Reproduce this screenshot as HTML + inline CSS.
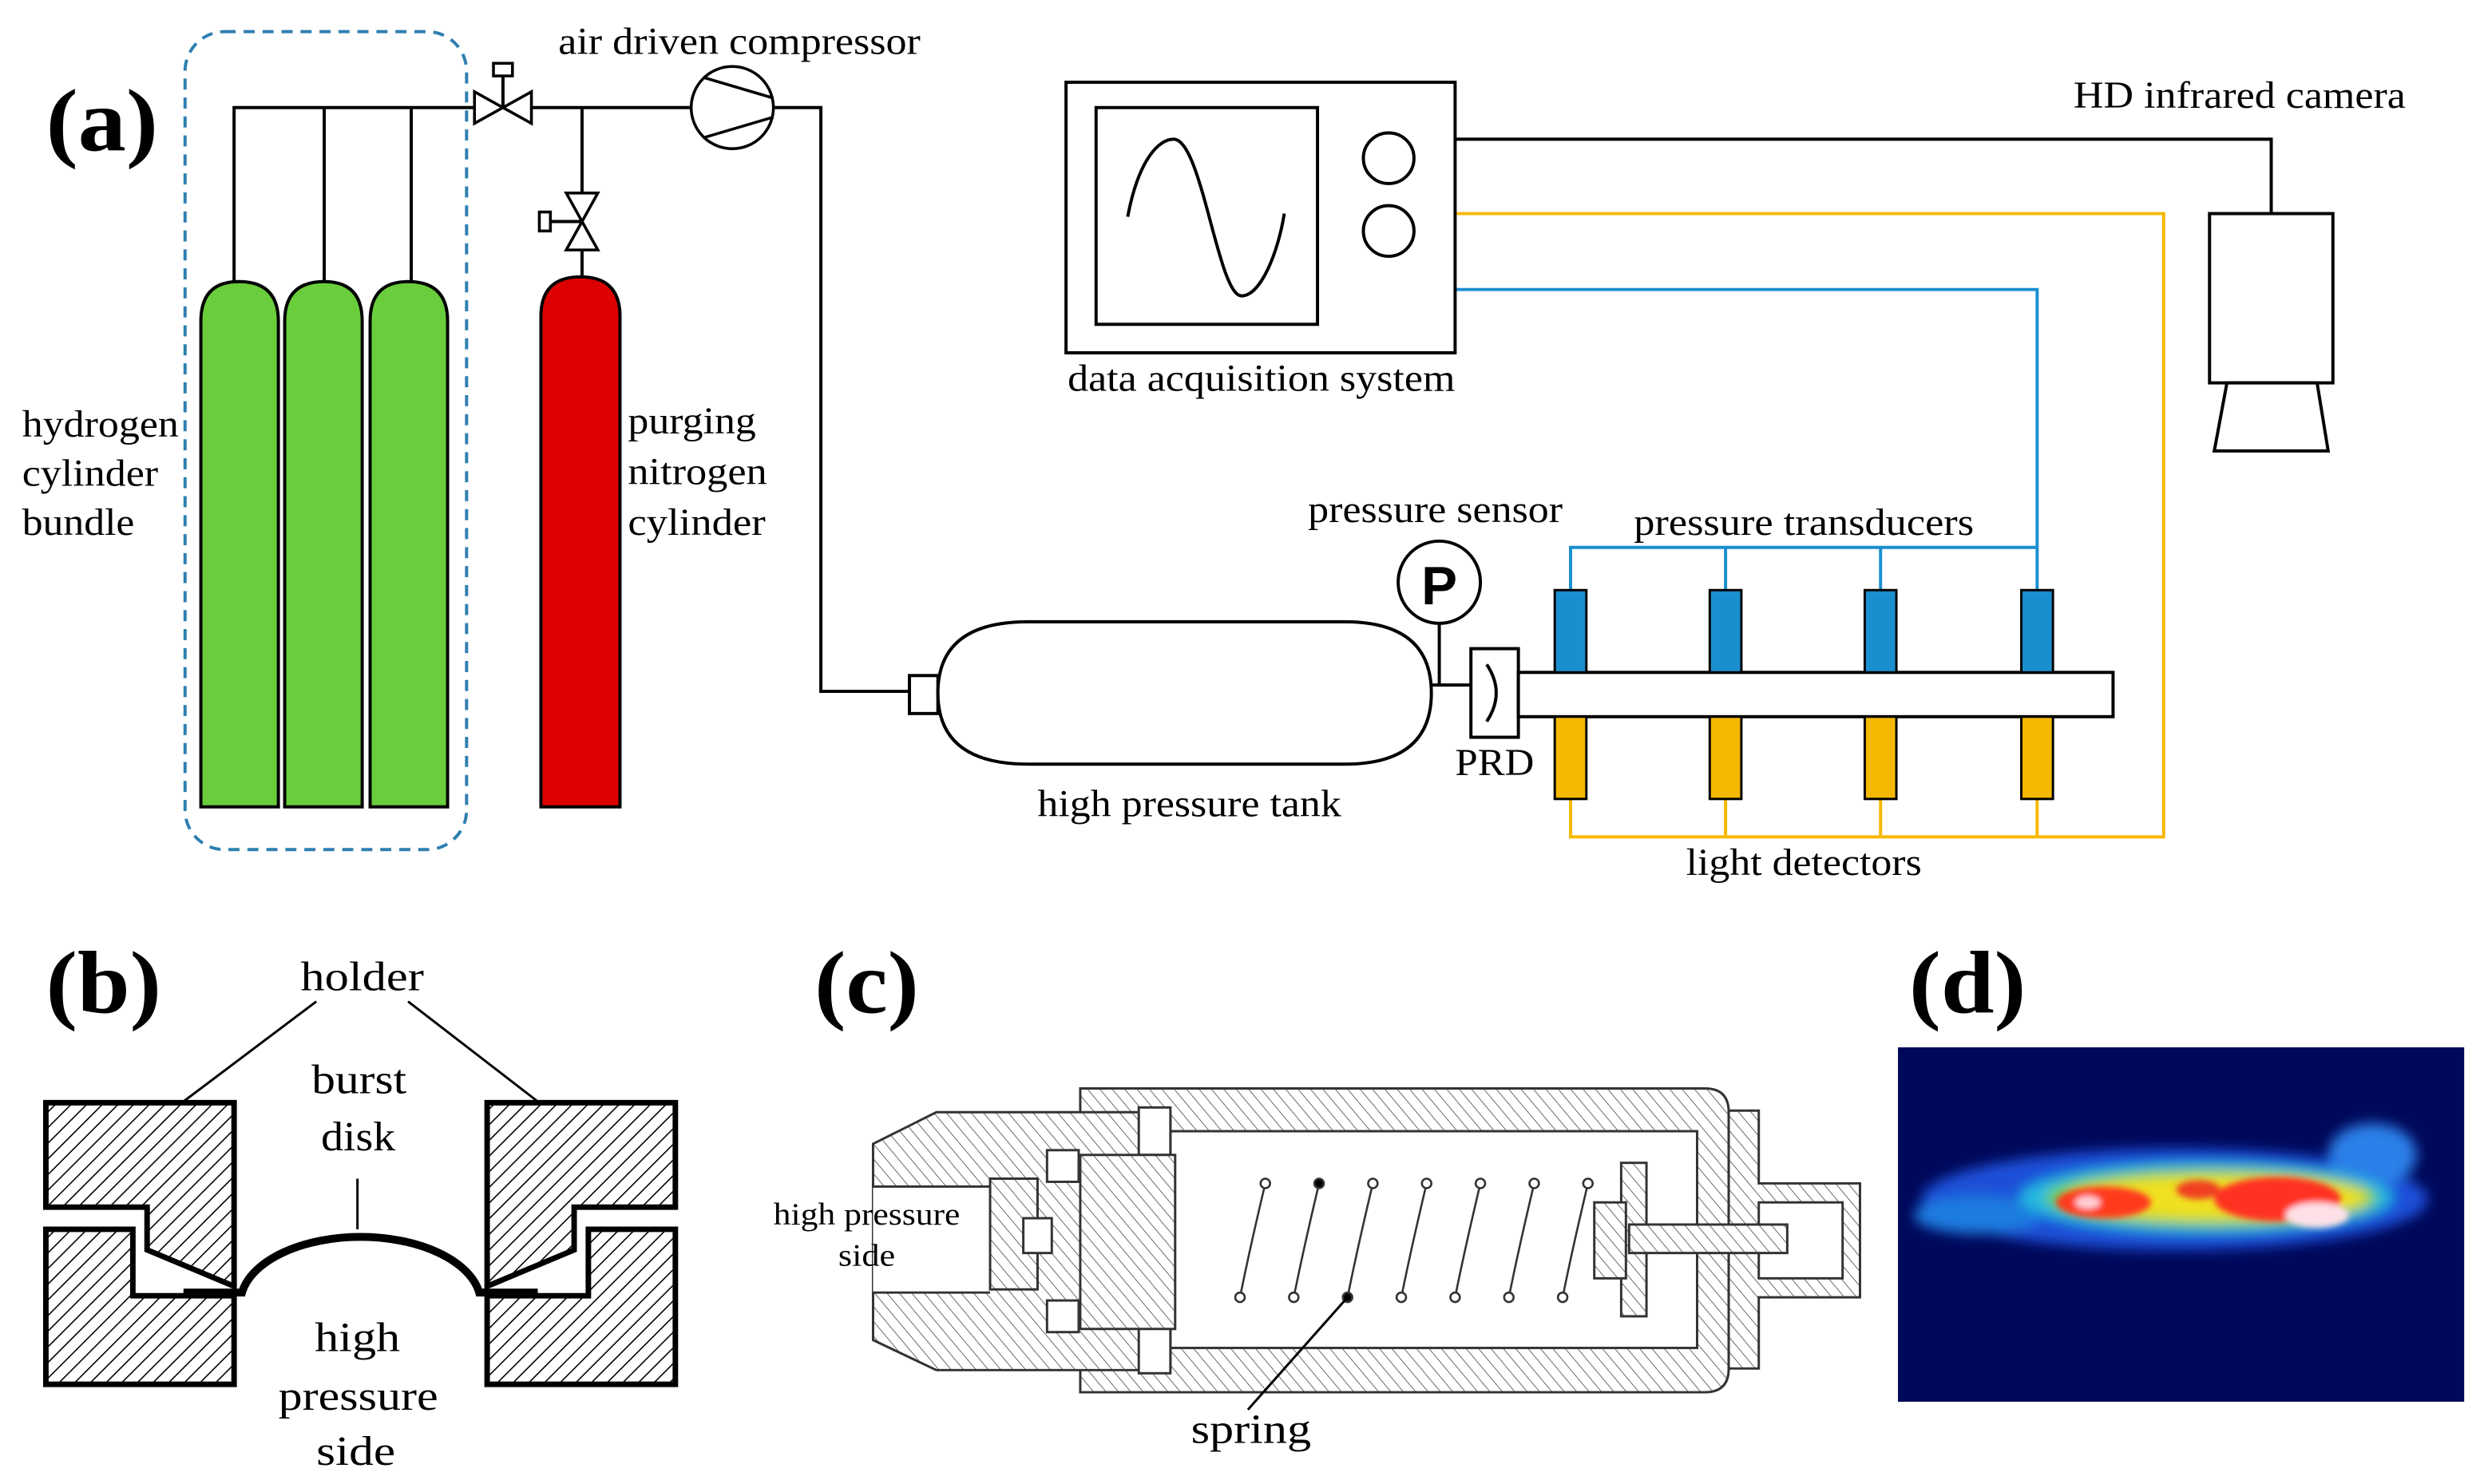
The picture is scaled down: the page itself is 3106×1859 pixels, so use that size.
<!DOCTYPE html>
<html><head><meta charset="utf-8"><style>
html,body{margin:0;padding:0;background:#fff;}
svg{display:block;}
text{font-family:"Liberation Serif",serif;fill:#000;}
</style></head><body>
<svg width="3106" height="1859" viewBox="0 0 1568 938" preserveAspectRatio="none" xmlns="http://www.w3.org/2000/svg">
<defs>
<pattern id="hb" width="7" height="7" patternUnits="userSpaceOnUse" patternTransform="rotate(45)"><rect width="7" height="7" fill="#fff"/><line x1="0" y1="0" x2="0" y2="7" stroke="#000" stroke-width="1.6"/></pattern>
<pattern id="hc" width="6" height="6" patternUnits="userSpaceOnUse" patternTransform="rotate(-40)"><rect width="6" height="6" fill="#fff"/><line x1="0" y1="0" x2="0" y2="6" stroke="#444" stroke-width="0.8"/></pattern>
<filter id="bl"><feGaussianBlur stdDeviation="4"/></filter>
<filter id="bl2"><feGaussianBlur stdDeviation="2"/></filter>
</defs>
<rect width="1568" height="938" fill="#fff"/>

<!-- panel a -->
<text x="29" y="95" font-size="56" font-weight="bold" textLength="71" lengthAdjust="spacingAndGlyphs">(a)</text>
<rect x="117" y="20" width="178" height="517" rx="25" fill="none" stroke="#2f7fb0" stroke-width="2" stroke-dasharray="7,5"/>
<g stroke="#000" stroke-width="2" fill="none">
<polyline points="148,178 148,68 300,68"/>
<line x1="205" y1="68" x2="205" y2="178"/>
<line x1="260" y1="68" x2="260" y2="178"/>
<line x1="336" y1="68" x2="437" y2="68"/>
<line x1="368" y1="68" x2="368" y2="122"/>
<line x1="368" y1="158" x2="368" y2="177"/>
<polyline points="489,68 519,68 519,437 575,437"/>
<line x1="318" y1="68" x2="318" y2="47"/>
<line x1="368" y1="140" x2="348" y2="140"/>
</g>
<g stroke="#000" stroke-width="1.8" fill="#fff">
<path d="M300,58 L318,68 L300,78 Z"/><path d="M336,58 L318,68 L336,78 Z"/>
<rect x="312" y="40" width="12" height="8"/>
<path d="M358,122 L368,140 L378,122 Z"/><path d="M358,158 L368,140 L378,158 Z"/>
<rect x="341" y="134" width="7" height="12"/>
<circle cx="463" cy="68" r="26"/>
<line x1="445" y1="49" x2="489" y2="62"/><line x1="445" y1="87" x2="489" y2="74"/>
</g>
<g stroke="#000" stroke-width="2" fill="#6acd3c">
<path d="M127,510 V203 Q127,178 151,178 Q176,178 176,203 V510 Z"/>
<path d="M180,510 V203 Q180,178 205,178 Q229,178 229,203 V510 Z"/>
<path d="M234,510 V203 Q234,178 258,178 Q283,178 283,203 V510 Z"/>
<path fill="#dd0000" d="M342,510 V200 Q342,175 367,175 Q392,175 392,200 V510 Z"/>
</g>
<g font-size="24" lengthAdjust="spacingAndGlyphs">
<text x="14" y="276" textLength="99" lengthAdjust="spacingAndGlyphs">hydrogen</text><text x="14" y="307" textLength="86" lengthAdjust="spacingAndGlyphs">cylinder</text><text x="14" y="338" textLength="71" lengthAdjust="spacingAndGlyphs">bundle</text>
<text x="397" y="274" textLength="81" lengthAdjust="spacingAndGlyphs">purging</text><text x="397" y="306" textLength="88" lengthAdjust="spacingAndGlyphs">nitrogen</text><text x="397" y="338" textLength="87" lengthAdjust="spacingAndGlyphs">cylinder</text>
<text x="353" y="34" textLength="229" lengthAdjust="spacingAndGlyphs">air driven compressor</text>
<text x="1311" y="68" textLength="210" lengthAdjust="spacingAndGlyphs">HD infrared camera</text>
<text x="675" y="247" textLength="245" lengthAdjust="spacingAndGlyphs">data acquisition system</text>
<text x="827" y="330" textLength="161" lengthAdjust="spacingAndGlyphs">pressure sensor</text>
<text x="1033" y="338" textLength="215" lengthAdjust="spacingAndGlyphs">pressure transducers</text>
<text x="656" y="516" textLength="192" lengthAdjust="spacingAndGlyphs">high pressure tank</text>
<text x="920" y="490" textLength="50" lengthAdjust="spacingAndGlyphs">PRD</text>
<text x="1066" y="553" textLength="149" lengthAdjust="spacingAndGlyphs">light detectors</text>
</g>
<!-- tank -->
<g stroke="#000" stroke-width="2" fill="#fff">
<rect x="575" y="427" width="18" height="24"/>
<path d="M650,393 H850 Q905,393 905,438 Q905,483 850,483 H650 Q593,483 593,438 Q593,393 650,393 Z"/>
<line x1="905" y1="433" x2="930" y2="433"/>
<line x1="910" y1="394" x2="910" y2="433"/>
<circle cx="910" cy="368" r="26"/>
<rect x="930" y="410" width="30" height="56"/>
<path d="M940,420 Q952,438 940,456" fill="none"/>
<rect x="960" y="425" width="376" height="28"/>
</g>
<text x="910" y="382" font-size="34" font-weight="bold" text-anchor="middle" style="font-family:'Liberation Sans',sans-serif">P</text>
<!-- signal lines -->
<g fill="none" stroke-width="2">
<polyline stroke="#1a8fd0" points="993,373 993,346 1288,346"/>
<line stroke="#1a8fd0" x1="1091" y1="346" x2="1091" y2="373"/>
<line stroke="#1a8fd0" x1="1189" y1="346" x2="1189" y2="373"/>
<polyline stroke="#1a8fd0" points="1288,373 1288,183 920,183"/>
<polyline stroke="#f5b800" points="993,505 993,529 1368,529 1368,135 920,135"/>
<line stroke="#f5b800" x1="1091" y1="505" x2="1091" y2="529"/>
<line stroke="#f5b800" x1="1189" y1="505" x2="1189" y2="529"/>
<line stroke="#f5b800" x1="1288" y1="505" x2="1288" y2="529"/>
<polyline stroke="#000" points="920,88 1436,88 1436,135"/>
</g>
<g stroke="#000" stroke-width="1.5">
<rect x="983" y="373" width="20" height="52" fill="#1a8fd0"/><rect x="1081" y="373" width="20" height="52" fill="#1a8fd0"/>
<rect x="1179" y="373" width="20" height="52" fill="#1a8fd0"/><rect x="1278" y="373" width="20" height="52" fill="#1a8fd0"/>
<rect x="983" y="453" width="20" height="52" fill="#f5b800"/><rect x="1081" y="453" width="20" height="52" fill="#f5b800"/>
<rect x="1179" y="453" width="20" height="52" fill="#f5b800"/><rect x="1278" y="453" width="20" height="52" fill="#f5b800"/>
</g>
<!-- DAQ -->
<g stroke="#000" stroke-width="2" fill="#fff">
<rect x="674" y="52" width="246" height="171"/>
<rect x="693" y="68" width="140" height="137"/>
<circle cx="878" cy="100" r="16"/><circle cx="878" cy="146" r="16"/>
<path fill="none" d="M713,137 C720,100 733,88 742,88 C760,88 770,187 785,187 C797,187 808,160 812,135"/>
<rect x="1397" y="135" width="78" height="107"/>
<path d="M1408,242 L1465,242 L1472,285 L1400,285 Z"/>
</g>

<!-- panel b -->
<text x="29" y="640" font-size="56" font-weight="bold" textLength="73" lengthAdjust="spacingAndGlyphs">(b)</text>
<text x="190" y="626" font-size="26" textLength="78" lengthAdjust="spacingAndGlyphs">holder</text>
<g stroke="#000" stroke-width="1.5"><line x1="200" y1="633" x2="115" y2="697"/><line x1="258" y1="633" x2="341" y2="697"/><line x1="226" y1="745" x2="226" y2="777"/></g>
<g stroke="#000" stroke-width="3.5" fill="url(#hb)">
<path d="M29,697 H148 V813 L93,790 V763 H29 Z"/>
<path d="M29,777 H84 V819 H148 V875 H29 Z"/>
<path d="M427,697 H308 V813 L363,790 V763 H427 Z"/>
<path d="M427,777 H372 V819 H308 V875 H427 Z"/>
</g>
<g stroke="#000" stroke-width="5" fill="none">
<path d="M116,817 H153 A76,42 0 0 1 303,817 H340"/>
</g>
<g font-size="26">
<text x="197" y="691" textLength="60" lengthAdjust="spacingAndGlyphs">burst</text><text x="203" y="727" textLength="47" lengthAdjust="spacingAndGlyphs">disk</text>
<text x="199" y="854" textLength="54" lengthAdjust="spacingAndGlyphs">high</text><text x="176" y="891" textLength="101" lengthAdjust="spacingAndGlyphs">pressure</text><text x="200" y="926" textLength="50" lengthAdjust="spacingAndGlyphs">side</text>
</g>

<!-- panel c -->
<text x="515" y="640" font-size="56" font-weight="bold" textLength="66" lengthAdjust="spacingAndGlyphs">(c)</text>
<g stroke="#333" stroke-width="1.5" fill="url(#hc)">
<path d="M683,688 H1078 Q1093,688 1093,703 V865 Q1093,880 1078,880 H683 Z"/>
<path d="M592,703 H740 V866 H592 L552,847 V723 Z"/>
<path d="M1093,702 H1112 V748 H1176 V820 H1112 V865 H1093 Z"/>
</g>
<g stroke="#333" stroke-width="1.5" fill="#fff">
<rect x="740" y="715" width="333" height="137"/>
<rect x="552" y="750" width="74" height="67" stroke="none"/>
<line x1="552" y1="750" x2="626" y2="750"/><line x1="552" y1="817" x2="626" y2="817"/>
<rect x="626" y="745" width="30" height="70" fill="url(#hc)"/>
<rect x="647" y="770" width="18" height="22"/>
<rect x="662" y="727" width="20" height="20"/><rect x="662" y="822" width="20" height="20"/>
<rect x="720" y="700" width="20" height="30"/><rect x="720" y="838" width="20" height="30"/>
<rect x="683" y="730" width="60" height="110" fill="url(#hc)"/>
<rect x="1112" y="760" width="53" height="48"/>
<rect x="1025" y="735" width="16" height="97" fill="url(#hc)"/>
<rect x="1008" y="760" width="20" height="48" fill="url(#hc)"/>
<rect x="1030" y="774" width="100" height="18" fill="url(#hc)"/>
</g>
<g stroke="#333" stroke-width="1.3" fill="#fff">
<path d="M784,820 Q790,790 800,748"/><path d="M818,820 Q824,790 834,748"/><path d="M852,820 Q858,790 868,748"/>
<path d="M886,820 Q892,790 902,748"/><path d="M920,820 Q926,790 936,748"/><path d="M954,820 Q960,790 970,748"/><path d="M988,820 Q994,790 1004,748"/>
<circle cx="784" cy="820" r="3"/><circle cx="818" cy="820" r="3"/><circle cx="852" cy="820" r="3" fill="#000"/><circle cx="886" cy="820" r="3"/><circle cx="920" cy="820" r="3"/><circle cx="954" cy="820" r="3"/><circle cx="988" cy="820" r="3"/>
<circle cx="800" cy="748" r="3"/><circle cx="834" cy="748" r="3" fill="#000"/><circle cx="868" cy="748" r="3"/><circle cx="902" cy="748" r="3"/><circle cx="936" cy="748" r="3"/><circle cx="970" cy="748" r="3"/><circle cx="1004" cy="748" r="3"/>
</g>
<line x1="852" y1="820" x2="789" y2="891" stroke="#000" stroke-width="1.5"/>
<text x="489" y="774" font-size="20" textLength="118" lengthAdjust="spacingAndGlyphs">high pressure</text>
<text x="530" y="800" font-size="20" textLength="36" lengthAdjust="spacingAndGlyphs">side</text>
<text x="753" y="912" font-size="26" textLength="76" lengthAdjust="spacingAndGlyphs">spring</text>

<!-- panel d -->
<text x="1207" y="640" font-size="56" font-weight="bold" textLength="74" lengthAdjust="spacingAndGlyphs">(d)</text>
<rect x="1200" y="662" width="358" height="224" fill="#00085a"/>
<g filter="url(#bl)">
<ellipse cx="1375" cy="758" rx="160" ry="32" fill="#1d4fd8"/>
<ellipse cx="1250" cy="768" rx="40" ry="12" fill="#1a7be0"/>
<ellipse cx="1500" cy="730" rx="28" ry="20" fill="#2a7fe8"/>
<ellipse cx="1395" cy="757" rx="118" ry="22" fill="#20b8e0"/>
<ellipse cx="1398" cy="757" rx="105" ry="18" fill="#6fd040"/>
<ellipse cx="1402" cy="757" rx="95" ry="14" fill="#f0e020"/>
</g>
<g filter="url(#bl2)">
<ellipse cx="1330" cy="760" rx="30" ry="10" fill="#ff3a1a"/>
<ellipse cx="1440" cy="758" rx="40" ry="14" fill="#ff3020"/>
<ellipse cx="1390" cy="752" rx="14" ry="6" fill="#f04020"/>
<ellipse cx="1465" cy="768" rx="20" ry="8" fill="#ffe0e8"/>
<ellipse cx="1320" cy="760" rx="8" ry="4" fill="#ffd0d8"/>
</g>
</svg>
</body></html>
